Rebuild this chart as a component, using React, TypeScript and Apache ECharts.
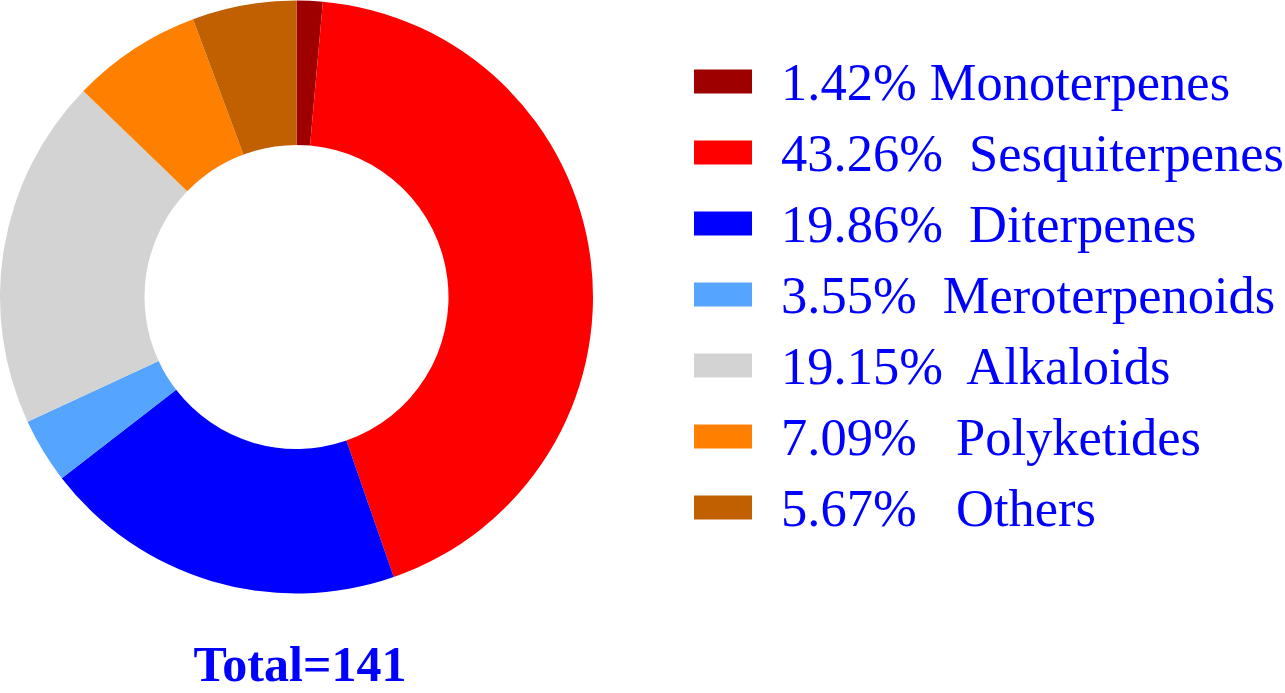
import React, { useEffect, useRef } from "react";
import * as echarts from "echarts";

const categories = ["Monoterpenes", "Sesquiterpenes", "Diterpenes", "Meroterpenoids", "Alkaloids", "Polyketides", "Others"];
const counts = [2, 61, 28, 5, 27, 10, 8];
const legendLabels = [
  "1.42% Monoterpenes",
  "43.26%  Sesquiterpenes",
  "19.86%  Diterpenes",
  "3.55%  Meroterpenoids",
  "19.15%  Alkaloids",
  "7.09%   Polyketides",
  "5.67%   Others",
];
const colors = ["#9E0000", "#FF0000", "#0000FF", "#55A5FF", "#D3D3D3", "#FF8000", "#C06000"];
const totalLabel = "Total=141";

export default function App() {
  const ref = useRef<HTMLDivElement>(null);
  useEffect(() => {
    if (!ref.current) return;
    const chart = echarts.init(ref.current, null, { renderer: "svg" });
    chart.setOption({
      animation: false,
      color: colors,
      legend: {
        orient: "vertical",
        left: 694,
        top: 55,
        padding: 0,
        itemWidth: 58,
        itemHeight: 24,
        itemGap: 18,
        icon: "rect",
        selectedMode: false,
        formatter: (name: string) => legendLabels[categories.indexOf(name)],
        textStyle: {
          fontFamily: "Liberation Serif",
          fontSize: 52.5,
          lineHeight: 50,
          color: "#0000FF",
          padding: [0, 0, 0, 24],
        },
      },
      graphic: [
        {
          type: "text",
          x: 300,
          y: 664,
          style: {
            text: totalLabel,
            fontFamily: "Liberation Serif",
            fontWeight: "bold",
            fontSize: 50,
            lineHeight: 50,
            fill: "#0000FF",
            textAlign: "center",
            textVerticalAlign: "middle",
          },
        },
      ],
      series: [
        {
          type: "pie",
          center: [296.5, 297],
          radius: [152, 296.5],
          startAngle: 90,
          clockwise: true,
          label: { show: false },
          labelLine: { show: false },
          emphasis: { disabled: true },
          itemStyle: { borderWidth: 0 },
          data: categories.map((c, i) => ({ name: c, value: counts[i] })),
        },
      ],
    });
    return () => chart.dispose();
  }, []);
  return (
    <div
      ref={ref}
      style={{ position: "fixed", left: 0, top: 0, width: 1285, height: 693, background: "#fff" }}
    />
  );
}
